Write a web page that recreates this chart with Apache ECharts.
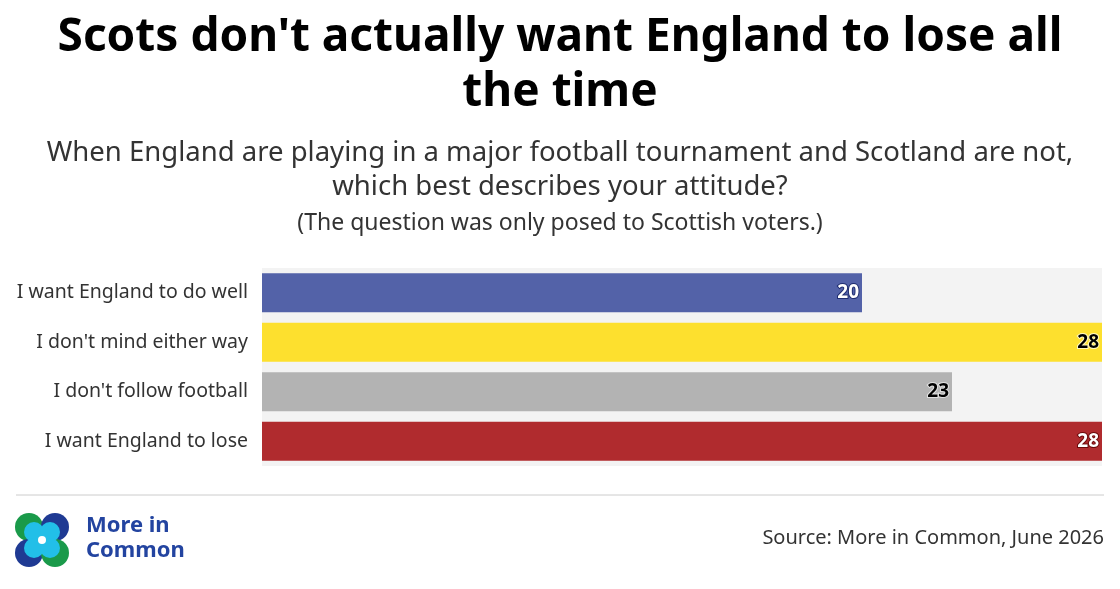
<!DOCTYPE html>
<html lang="en">
<head>
<meta charset="UTF-8">
<title>Scots and England</title>
<script src="https://cdn.jsdelivr.net/npm/echarts@6/dist/echarts.min.js"></script>
<style>
  html, body { margin:0; padding:0; background:#fff; }
  #main { width:1120px; height:589px; }
</style>
</head>
<body>
<div id="main"></div>
<script>
var chart = echarts.init(document.getElementById('main'));
// answers, top to bottom
var labels = ['I want England to do well', "I don't mind either way", "I don't follow football", 'I want England to lose'];
var values = [20, 28, 23, 28];
var colors = ['#5362a8', '#fde02e', '#b3b3b3', '#b02b2e'];
var textCol = ['#fff', '#000', '#000', '#fff'];
var borderCol = ['#1f2d70', '#fff8c0', '#e0e0e0', '#6a0a0a'];

var font = '"Noto Sans", sans-serif';
var option = {
  backgroundColor: '#fff',
  title: [
    { text: "Scots don't actually want England to lose all\nthe time", left: 'center', top: 5,
      textStyle: { fontSize: 46, fontWeight: 'bold', fontFamily: font, color: '#000', lineHeight: 55 } },
    { text: 'When England are playing in a major football tournament and Scotland are not,\nwhich best describes your attitude?', left: 'center', top: 131,
      textStyle: { fontSize: 27.5, fontWeight: 'normal', fontFamily: font, color: '#333', lineHeight: 34 } },
    { text: '(The question was only posed to Scottish voters.)', left: 'center', top: 207,
      textStyle: { fontSize: 23, fontWeight: 'normal', fontFamily: font, color: '#333' } }
  ],
  grid: { left: 262, right: 18, top: 268, height: 198, backgroundColor: '#f3f3f3', show: true, borderWidth: 0 },
  xAxis: { type: 'value', min: 0, max: 28, show: false },
  yAxis: {
    type: 'category', inverse: true, data: labels,
    axisLine: { show: false }, axisTick: { show: false },
    axisLabel: { fontSize: 19.5, color: '#333', fontFamily: font, margin: 14 }
  },
  series: [{
    type: 'bar', barWidth: 39,
    data: values.map(function (v, i) {
      return { value: v, itemStyle: { color: colors[i] },
        label: { color: textCol[i], textBorderColor: borderCol[i], textBorderWidth: 2 } };
    }),
    label: { show: true, position: 'insideRight', offset: [2, 0], fontSize: 19, fontWeight: 'bold', fontFamily: font }
  }],
  graphic: [
    { type: 'line', shape: { x1: 16, y1: 495, x2: 1104, y2: 495 }, style: { stroke: '#ccc', lineWidth: 1 } },
    { type: 'circle', shape: { cx: 29, cy: 527, r: 14 }, style: { fill: '#1a9a4a' } },
    { type: 'circle', shape: { cx: 55, cy: 527, r: 14 }, style: { fill: '#1f3a93' } },
    { type: 'circle', shape: { cx: 29, cy: 553, r: 14 }, style: { fill: '#1f3a93' } },
    { type: 'circle', shape: { cx: 55, cy: 553, r: 14 }, style: { fill: '#1a9a4a' } },
    { type: 'circle', shape: { cx: 34, cy: 532, r: 10 }, style: { fill: '#22bfe8' } },
    { type: 'circle', shape: { cx: 50, cy: 532, r: 10 }, style: { fill: '#22bfe8' } },
    { type: 'circle', shape: { cx: 34, cy: 548, r: 10 }, style: { fill: '#22bfe8' } },
    { type: 'circle', shape: { cx: 50, cy: 548, r: 10 }, style: { fill: '#22bfe8' } },
    { type: 'circle', shape: { cx: 42, cy: 540, r: 4 }, style: { fill: '#fff' } },
    { type: 'text', left: 86, top: 513, style: { text: 'More in\nCommon', fontSize: 22, fontWeight: 'bold', fill: '#2344a0', fontFamily: font, lineHeight: 25 } },
    { type: 'text', right: 16, top: 528, style: { text: 'Source: More in Common, June 2026', fontSize: 20, fill: '#333', fontFamily: font } }
  ]
};
chart.setOption(option);
</script>
</body>
</html>
